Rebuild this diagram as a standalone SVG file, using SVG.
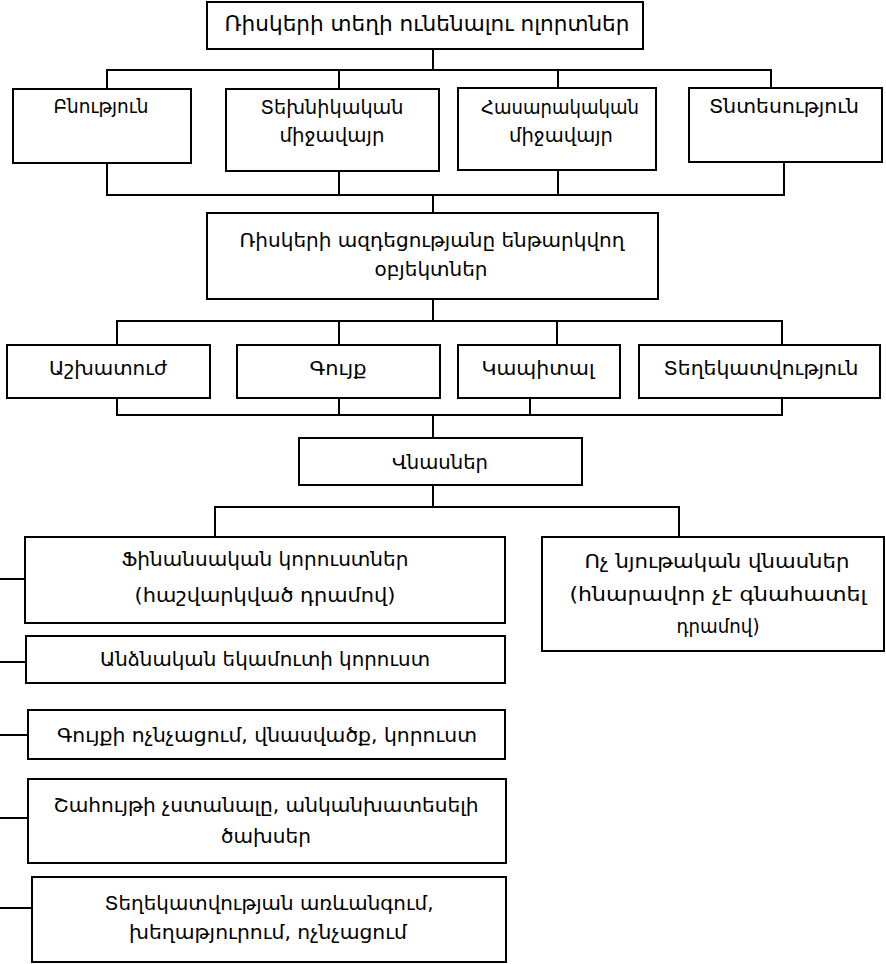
<svg xmlns="http://www.w3.org/2000/svg" width="886" height="964" viewBox="0 0 886 964">
<style>
rect{fill:#fff;stroke:#000;stroke-width:2}
.c{fill:none;stroke:#000;stroke-width:2}
text{font-family:"DejaVu Sans","Noto Sans",sans-serif;font-size:20px;fill:#000;text-anchor:middle}
.t{font-size:21px}
.s{font-size:19px}
</style>
<rect x="0" y="0" width="886" height="964" style="stroke:none"/>
<g id="connectors" class="c">
<path d="M433 49V70M107 89V70H771V89M339 70V89M558 70V88"/>
<path d="M107 163V195H784V162M339 171V195M558 170V195M433 195V213"/>
<path d="M433 299V321M117 345V321H782V345M339 321V345M557 321V345"/>
<path d="M117 398V415H782V398M339 398V415M530 398V415M433 415V438"/>
<path d="M433 485V507M215 537V507H679V537"/>
<path d="M0 579H25M0 662H26M0 735H28M0 818H28M0 908H32"/>
</g>
<g id="n1"><rect x="207" y="2" width="436" height="47"/><text class="t" x="427" y="31" textLength="405" lengthAdjust="spacingAndGlyphs">Ռիսկերի տեղի ունենալու ոլորտներ</text></g>
<g id="n2"><rect x="13" y="89" width="178" height="74"/><text class="s" x="101" y="113" textLength="95" lengthAdjust="spacingAndGlyphs">Բնություն</text></g>
<g id="n3"><rect x="226" y="89" width="213" height="82"/><text class="s" x="332" y="114" textLength="143" lengthAdjust="spacingAndGlyphs">Տեխնիկական</text><text class="s" x="332" y="142" textLength="105" lengthAdjust="spacingAndGlyphs">միջավայր</text></g>
<g id="n4"><rect x="458" y="88" width="198" height="82"/><text class="s" x="560" y="114" textLength="158" lengthAdjust="spacingAndGlyphs">Հասարակական</text><text class="s" x="561" y="142" textLength="104" lengthAdjust="spacingAndGlyphs">միջավայր</text></g>
<g id="n5"><rect x="689" y="88" width="193" height="74"/><text class="s" x="784" y="113" textLength="150" lengthAdjust="spacingAndGlyphs">Տնտեսություն</text></g>
<g id="n6"><rect x="207" y="213" width="451" height="86"/><text x="432" y="247" textLength="385" lengthAdjust="spacingAndGlyphs">Ռիսկերի ազդեցությանը ենթարկվող</text><text x="431" y="276" textLength="113" lengthAdjust="spacingAndGlyphs">օբյեկտներ</text></g>
<g id="n7"><rect x="7" y="345" width="203" height="53"/><text x="108" y="375" textLength="118" lengthAdjust="spacingAndGlyphs">Աշխատուժ</text></g>
<g id="n8"><rect x="237" y="345" width="203" height="53"/><text x="338" y="375" textLength="57" lengthAdjust="spacingAndGlyphs">Գույք</text></g>
<g id="n9"><rect x="458" y="345" width="162" height="53"/><text x="538" y="375" textLength="113" lengthAdjust="spacingAndGlyphs">Կապիտալ</text></g>
<g id="n10"><rect x="639" y="345" width="241" height="53"/><text x="761" y="375" textLength="195" lengthAdjust="spacingAndGlyphs">Տեղեկատվություն</text></g>
<g id="n11"><rect x="299" y="438" width="283" height="47"/><text x="440" y="469" textLength="96" lengthAdjust="spacingAndGlyphs">Վնասներ</text></g>
<g id="n12"><rect x="25" y="537" width="480" height="86"/><text x="265" y="566" textLength="287" lengthAdjust="spacingAndGlyphs">Ֆինանսական կորուստներ</text><text x="265" y="602" textLength="261" lengthAdjust="spacingAndGlyphs">(հաշվարկված դրամով)</text></g>
<g id="n13"><rect x="542" y="537" width="342" height="114"/><text x="717" y="568" textLength="265" lengthAdjust="spacingAndGlyphs">Ոչ նյութական վնասներ</text><text x="718" y="601" textLength="297" lengthAdjust="spacingAndGlyphs">(հնարավոր չէ գնահատել</text><text x="718" y="633" textLength="83" lengthAdjust="spacingAndGlyphs">դրամով)</text></g>
<g id="n14"><rect x="26" y="636" width="479" height="47"/><text x="265" y="666" textLength="330" lengthAdjust="spacingAndGlyphs">Անձնական եկամուտի կորուստ</text></g>
<g id="n15"><rect x="28" y="710" width="477" height="49"/><text x="267" y="742" textLength="420" lengthAdjust="spacingAndGlyphs">Գույքի ոչնչացում, վնասվածք, կորուստ</text></g>
<g id="n16"><rect x="28" y="779" width="478" height="84"/><text x="266" y="812" textLength="425" lengthAdjust="spacingAndGlyphs">Շահույթի չստանալը, անկանխատեսելի</text><text x="266" y="843" textLength="90" lengthAdjust="spacingAndGlyphs">ծախսեր</text></g>
<g id="n17"><rect x="32" y="877" width="474" height="85"/><text x="269" y="910" textLength="329" lengthAdjust="spacingAndGlyphs">Տեղեկատվության առևանգում,</text><text x="268" y="939" textLength="278" lengthAdjust="spacingAndGlyphs">խեղաթյուրում, ոչնչացում</text></g>
</svg>
